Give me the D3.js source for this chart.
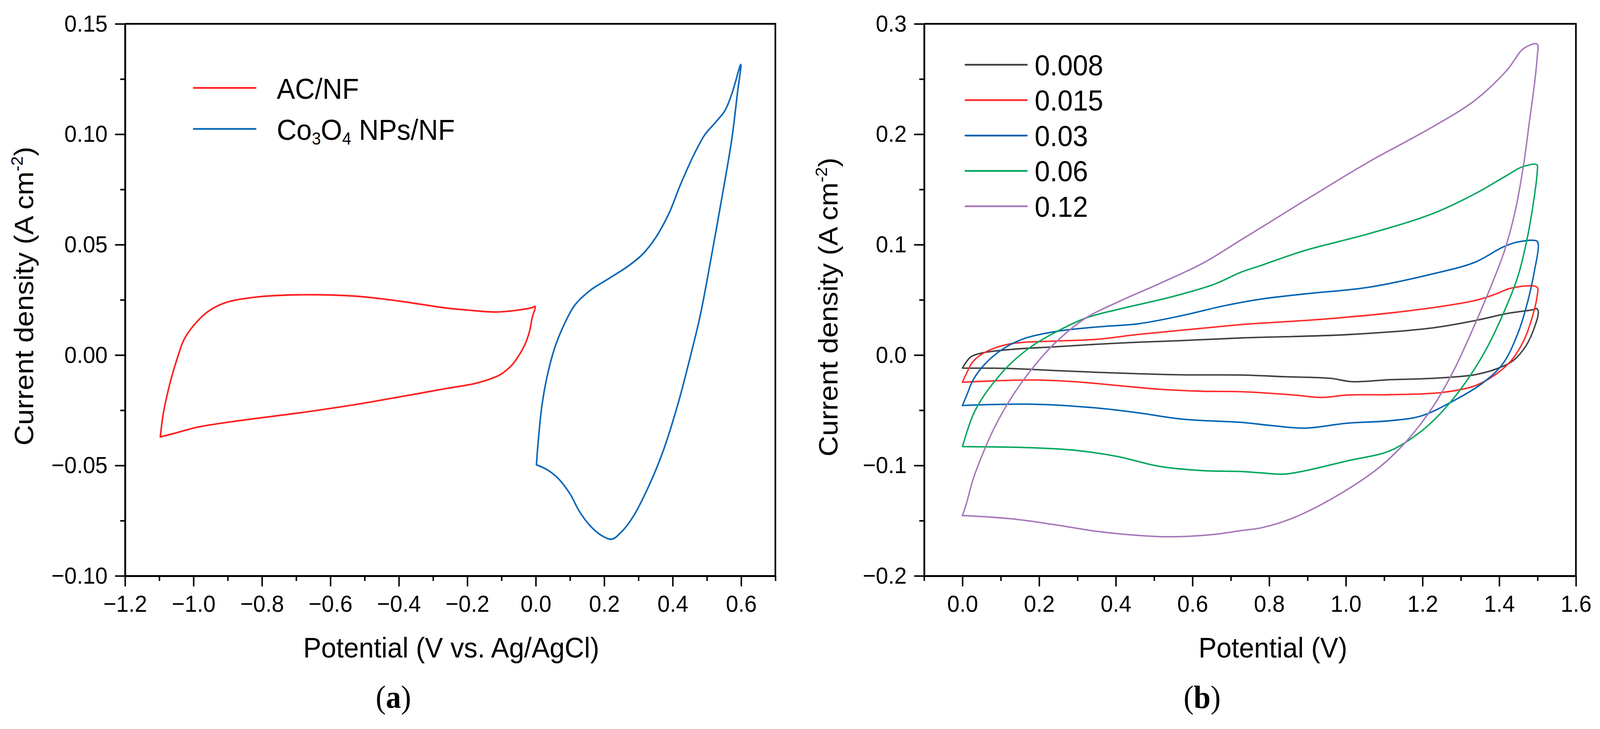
<!DOCTYPE html>
<html>
<head>
<meta charset="utf-8">
<script src="https://cdn.jsdelivr.net/npm/d3@7"></script>
<style>
  html, body { margin: 0; padding: 0; background: #fff; overflow: hidden; }
  svg { display: block; width: 100vw; height: 100vh; }
  text { font-family: "Liberation Sans", Arial, sans-serif; fill: #000; }
</style>
</head>
<body>
<svg id="fig" viewBox="0 0 4319 1866" preserveAspectRatio="none"></svg>
<script>
// ---- panel (a): AC/NF and Co3O4 NPs/NF ----
const acPotential = [-1.097, -1.089, -1.077, -1.064, -1.048, -1.027, -0.994, -0.952, -0.903, -0.820, -0.679, -0.530, -0.406, -0.267, -0.201, -0.116, -0.050, -0.010, -0.002,
  -0.011, -0.017, -0.027, -0.037, -0.057, -0.070, -0.103, -0.168, -0.267, -0.418, -0.530, -0.696, -0.861, -0.986, -1.052, -1.097];
const acCurrent = [-0.0371, -0.0272, -0.0181, -0.0100, -0.0018, 0.0072, 0.0144, 0.0203, 0.0239, 0.0262, 0.0273, 0.0267, 0.0246, 0.0214, 0.0204, 0.0195, 0.0204, 0.0215, 0.0220,
  0.0166, 0.0115, 0.0065, 0.0031, -0.0020, -0.0046, -0.0088, -0.0125, -0.0153, -0.0195, -0.0225, -0.0263, -0.0296, -0.0326, -0.0353, -0.0371];

const coPotential = [0.002, 0.005, 0.009, 0.017, 0.032, 0.055, 0.081, 0.114, 0.160, 0.212, 0.271, 0.311, 0.350, 0.389, 0.422, 0.461, 0.494, 0.527, 0.553, 0.573, 0.599,
  0.589, 0.573, 0.553, 0.520, 0.481, 0.455, 0.415, 0.370, 0.324, 0.284, 0.251, 0.222, 0.192, 0.160, 0.127, 0.101, 0.068, 0.035, 0.002];
const coCurrent = [-0.0495, -0.0430, -0.0360, -0.0240, -0.0105, 0.0031, 0.0132, 0.0226, 0.0294, 0.0345, 0.0404, 0.0455, 0.0531, 0.0641, 0.0769, 0.0904, 0.0998, 0.1057, 0.1108, 0.1184, 0.1316,
  0.1184, 0.0981, 0.0794, 0.0506, 0.0183, 0.0014, -0.0224, -0.0444, -0.0614, -0.0733, -0.0800, -0.0834, -0.0817, -0.0775, -0.0707, -0.0631, -0.0563, -0.0521, -0.0497];

// ---- panel (b): scan rates ----
const rateLabels = ["0.008", "0.015", "0.03", "0.06", "0.12"];
const rateColors = ["#404040", "#ff2b2b", "#0062b2", "#00a65c", "#a777ba"];

const v008 = [0, 0.008, 0.022, 0.050, 0.127, 0.238, 0.405, 0.571, 0.727, 1.004, 1.226, 1.337, 1.425, 1.486, 1.498,
  1.502, 1.492, 1.470, 1.436, 1.392, 1.337, 1.226, 1.115, 1.015, 0.960, 0.838, 0.727, 0.571, 0.405, 0.238, 0.127, 0];
const j008 = [-0.0118, -0.0073, -0.0016, 0.0018, 0.0051, 0.0074, 0.0108, 0.0131, 0.0155, 0.0185, 0.0246, 0.0312, 0.0379, 0.0409, 0.0420,
  0.0387, 0.0252, 0.0085, -0.0051, -0.0126, -0.0178, -0.0211, -0.0223, -0.0241, -0.0211, -0.0196, -0.0181, -0.0179, -0.0163, -0.0140, -0.0122, -0.0118];

const v015 = [0, 0.011, 0.027, 0.061, 0.127, 0.238, 0.349, 0.460, 0.626, 0.727, 0.948, 1.170, 1.337, 1.392, 1.431, 1.499,
  1.499, 1.486, 1.464, 1.431, 1.392, 1.337, 1.253, 1.115, 1.004, 0.937, 0.865, 0.727, 0.626, 0.515, 0.405, 0.294, 0.183, 0];
const j015 = [-0.0246, -0.0163, -0.0061, 0.0029, 0.0103, 0.0126, 0.0142, 0.0187, 0.0243, 0.0276, 0.0327, 0.0403, 0.0494, 0.0554, 0.0606, 0.0614,
  0.0539, 0.0342, 0.0131, -0.0051, -0.0172, -0.0278, -0.0338, -0.0359, -0.0362, -0.0384, -0.0362, -0.0332, -0.0328, -0.0310, -0.0276, -0.0242, -0.0226, -0.0246];

const v03 = [0, 0.011, 0.027, 0.055, 0.099, 0.155, 0.238, 0.349, 0.460, 0.571, 0.682, 0.775, 0.893, 1.059, 1.226, 1.337, 1.409, 1.447, 1.498,
  1.502, 1.492, 1.475, 1.448, 1.409, 1.353, 1.281, 1.198, 1.115, 1.004, 0.893, 0.810, 0.727, 0.571, 0.460, 0.349, 0.183, 0];
const j03 = [-0.0457, -0.0366, -0.0231, -0.0095, 0.0040, 0.0142, 0.0210, 0.0254, 0.0284, 0.0356, 0.0446, 0.0505, 0.0554, 0.0614, 0.0735, 0.0841, 0.0977, 0.1023, 0.1032,
  0.0993, 0.0766, 0.0494, 0.0191, -0.0081, -0.0263, -0.0414, -0.0550, -0.0595, -0.0617, -0.0662, -0.0640, -0.0610, -0.0580, -0.0524, -0.0479, -0.0445, -0.0457];

const v06 = [0, 0.011, 0.027, 0.050, 0.083, 0.127, 0.183, 0.238, 0.321, 0.405, 0.543, 0.654, 0.727, 0.775, 0.893, 1.059, 1.226, 1.337, 1.420, 1.459, 1.498,
  1.499, 1.486, 1.470, 1.448, 1.414, 1.364, 1.309, 1.253, 1.198, 1.115, 1.004, 0.893, 0.838, 0.775, 0.727, 0.626, 0.515, 0.405, 0.294, 0.183, 0];
const j06 = [-0.0829, -0.0704, -0.0547, -0.0400, -0.0242, -0.0073, 0.0085, 0.0198, 0.0334, 0.0413, 0.0525, 0.0638, 0.0751, 0.0807, 0.0947, 0.1098, 0.1280, 0.1461, 0.1627, 0.1703, 0.1724,
  0.1658, 0.1310, 0.1008, 0.0705, 0.0403, 0.0040, -0.0263, -0.0505, -0.0686, -0.0867, -0.0958, -0.1049, -0.1079, -0.1066, -0.1055, -0.1047, -0.1009, -0.0919, -0.0863, -0.0840, -0.0829];

const v12 = [0, 0.011, 0.027, 0.050, 0.083, 0.127, 0.183, 0.238, 0.321, 0.405, 0.515, 0.626, 0.727, 0.775, 0.893, 1.059, 1.226, 1.337, 1.420, 1.464, 1.499,
  1.499, 1.492, 1.478, 1.464, 1.442, 1.414, 1.381, 1.337, 1.281, 1.226, 1.159, 1.087, 0.976, 0.865, 0.782, 0.727, 0.654, 0.543, 0.460, 0.349, 0.238, 0.127, 0];
const j12 = [-0.1454, -0.1337, -0.1133, -0.0919, -0.0660, -0.0389, -0.0118, 0.0097, 0.0334, 0.0480, 0.0649, 0.0830, 0.1044, 0.1146, 0.1400, 0.1748, 0.2066, 0.2308, 0.2580, 0.2777, 0.2816,
  0.2701, 0.2459, 0.2096, 0.1734, 0.1310, 0.0947, 0.0645, 0.0282, -0.0142, -0.0474, -0.0777, -0.1018, -0.1276, -0.1472, -0.1563, -0.1590, -0.1625, -0.1646, -0.1634, -0.1596, -0.1535, -0.1483, -0.1454];

const ratePotentials = [v008, v015, v03, v06, v12];
const rateCurrents = [j008, j015, j03, j06, j12];

// ---- ticks ----
const aXMajor = [-1.2, -1.0, -0.8, -0.6, -0.4, -0.2, 0.0, 0.2, 0.4, 0.6];
const aXMinor = [-1.1, -0.9, -0.7, -0.5, -0.3, -0.1, 0.1, 0.3, 0.5, 0.7];
const aYMajor = [-0.10, -0.05, 0.00, 0.05, 0.10, 0.15];
const aYMinor = [-0.075, -0.025, 0.025, 0.075, 0.125];
const bXMajor = [0.0, 0.2, 0.4, 0.6, 0.8, 1.0, 1.2, 1.4, 1.6];
const bXMinor = [-0.1, 0.1, 0.3, 0.5, 0.7, 0.9, 1.1, 1.3, 1.5];
const bYMajor = [-0.2, -0.1, 0.0, 0.1, 0.2, 0.3];
const bYMinor = [-0.15, -0.05, 0.05, 0.15, 0.25];

const svg = d3.select("#fig");
svg.append("rect").attr("width", 4319).attr("height", 1866).attr("fill", "#fff");

const plotTop = 61, plotBottom = 1474;
const xA = d3.scaleLinear().domain([-1.2, 0.7]).range([337.5, 2093]);
const yA = d3.scaleLinear().domain([-0.10, 0.15]).range([plotBottom, plotTop]);
const xB = d3.scaleLinear().domain([-0.1, 1.6]).range([2494.5, 4254]);
const yB = d3.scaleLinear().domain([-0.2, 0.3]).range([plotBottom, plotTop]);

function frame(x, y, xMajor, xMinor, yMajor, yMinor, xFmt, yFmt) {
  const g = svg.append("g");
  const [l, r] = x.range();
  // minor ticks
  g.append("g").attr("transform", `translate(0,${plotBottom})`)
    .call(d3.axisBottom(x).tickValues(xMinor).tickSize(13).tickSizeOuter(0).tickFormat(""));
  g.append("g").attr("transform", `translate(${l},0)`)
    .call(d3.axisLeft(y).tickValues(yMinor).tickSize(13).tickSizeOuter(0).tickFormat(""));
  // major ticks
  g.append("g").attr("transform", `translate(0,${plotBottom})`)
    .call(d3.axisBottom(x).tickValues(xMajor).tickSize(27).tickSizeOuter(0).tickPadding(22).tickFormat(d3.format(xFmt)));
  g.append("g").attr("transform", `translate(${l},0)`)
    .call(d3.axisLeft(y).tickValues(yMajor).tickSize(27).tickSizeOuter(0).tickPadding(20).tickFormat(d3.format(yFmt)));
  g.selectAll(".domain").attr("stroke", "#000").attr("stroke-width", 4.5);
  g.selectAll(".tick line").attr("stroke", "#000").attr("stroke-width", 4);
  g.selectAll(".tick text").attr("font-size", 60).attr("font-family", "Liberation Sans, Arial, sans-serif").attr("fill", "#000");
  // top and right borders
  g.append("path").attr("fill", "none").attr("stroke", "#000").attr("stroke-width", 4.5)
    .attr("d", `M${l},${plotTop}H${r}V${plotBottom}`);
}

frame(xA, yA, aXMajor, aXMinor, aYMajor, aYMinor, ".1f", ".2f");
frame(xB, yB, bXMajor, bXMinor, bYMajor, bYMinor, ".1f", ".1f");

function curve(x, y, vs, js, color, width) {
  const line = d3.line().x(i => x(vs[i])).y(i => y(js[i])).curve(d3.curveCatmullRom.alpha(0.5));
  svg.append("path").attr("d", line(d3.range(vs.length)))
    .attr("fill", "none").attr("stroke", color).attr("stroke-width", width)
    .attr("stroke-linejoin", "round").attr("stroke-linecap", "round");
}

curve(xA, yA, acPotential, acCurrent, "#ff1f1f", 4.2);
curve(xA, yA, coPotential, coCurrent, "#0a68b8", 4.2);
ratePotentials.forEach((vs, i) => curve(xB, yB, vs, rateCurrents[i], rateColors[i], 3.8));

// ---- legends ----
const legFont = 74;
const legA = svg.append("g");
[["#ff1f1f", 225], ["#0a68b8", 330]].forEach(([c, yy]) => {
  legA.append("line").attr("x1", 523).attr("x2", 690).attr("y1", yy).attr("y2", yy)
    .attr("stroke", c).attr("stroke-width", 4.5).attr("stroke-linecap", "round");
});
legA.append("text").attr("x", 747).attr("y", 253).attr("font-size", legFont).text("AC/NF");
const coText = legA.append("text").attr("x", 747).attr("y", 358).attr("font-size", legFont);
coText.append("tspan").text("Co");
coText.append("tspan").attr("font-size", 44).attr("dy", 12).text("3");
coText.append("tspan").attr("dy", -12).text("O");
coText.append("tspan").attr("font-size", 44).attr("dy", 12).text("4");
coText.append("tspan").attr("dy", -12).text(" NPs/NF");

const legB = svg.append("g");
rateLabels.forEach((lab, i) => {
  const yy = 165.7 + i * 90.6;
  legB.append("line").attr("x1", 2606).attr("x2", 2772).attr("y1", yy).attr("y2", yy)
    .attr("stroke", rateColors[i]).attr("stroke-width", 4.5).attr("stroke-linecap", "round");
  legB.append("text").attr("x", 2793).attr("y", yy + 27).attr("font-size", legFont).text(lab);
});

// ---- axis titles ----
const titleFont = 73;
function yTitle(x, yc) {
  const t = svg.append("text").attr("transform", `translate(${x},${yc}) rotate(-90)`)
    .attr("text-anchor", "middle").attr("font-size", titleFont);
  t.append("tspan").text("Current density (A cm");
  t.append("tspan").attr("font-size", 44).attr("dy", -29).text("-2");
  t.append("tspan").attr("dy", 29).text(")");
}
yTitle(90, 758);
yTitle(2261, 786);

svg.append("text").attr("x", 1218).attr("y", 1683).attr("text-anchor", "middle").attr("font-size", titleFont)
  .text("Potential (V vs. Ag/AgCl)");
svg.append("text").attr("x", 3436).attr("y", 1683).attr("text-anchor", "middle").attr("font-size", titleFont)
  .text("Potential (V)");

// ---- panel captions ----
function caption(x, letter) {
  const t = svg.append("text").attr("x", x).attr("y", 1812).attr("text-anchor", "middle")
    .attr("font-size", 82).style("font-family", "'Liberation Serif', 'Times New Roman', serif");
  t.append("tspan").text("(");
  t.append("tspan").attr("font-weight", "bold").text(letter);
  t.append("tspan").text(")");
}
caption(1062, "a");
caption(3245, "b");
</script>
</body>
</html>
